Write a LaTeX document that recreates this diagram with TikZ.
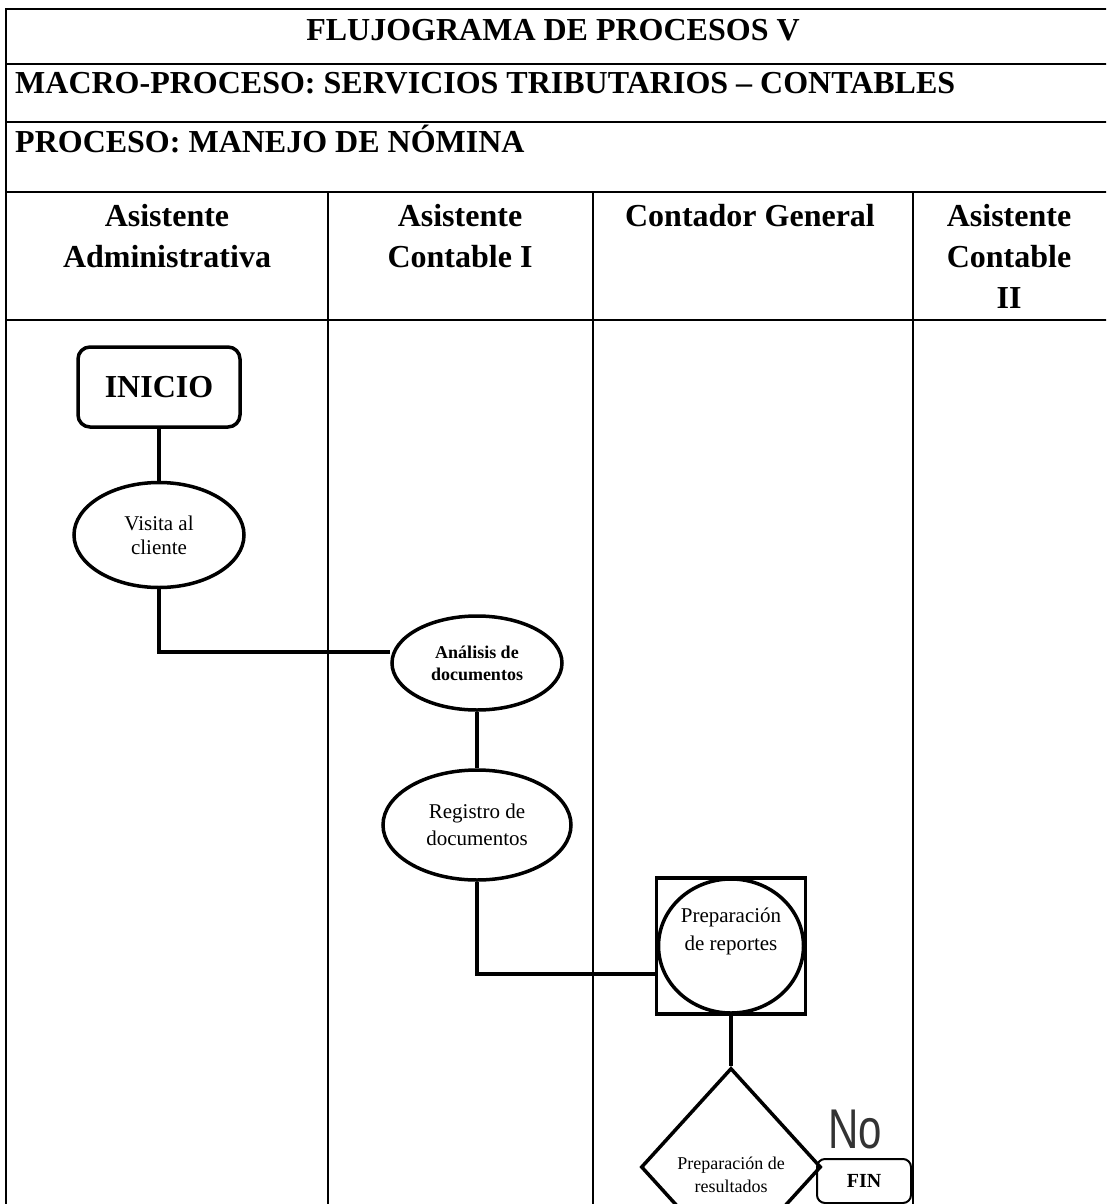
\documentclass[tikz,border=0pt]{standalone}
\usepackage{fontspec}
\setmainfont{Liberation Serif}
\newfontfamily\arialfont{Liberation Sans}
\usepackage{tikz}
\usetikzlibrary{shapes.geometric}

\begin{document}
\begin{tikzpicture}[x=1pt,y=-1pt,
    grid/.style={line width=2pt},
    flow/.style={line width=4pt},
    big/.style={font=\fontsize{32}{41}\selectfont\bfseries},
    shp/.style={draw, line width=3.5pt, align=center}]
\useasboundingbox (0,0) rectangle (1106,1204);
\clip (0,0) rectangle (1106,1204);
    \begin{scope}
\draw[grid] (1110,9) -- (6,9) -- (6,1210);
\draw[grid] (6,64) -- (1110,64);
\draw[grid] (6,122) -- (1110,122);
\draw[grid] (6,192) -- (1110,192);
\draw[grid] (6,320) -- (1110,320);
\foreach \x in {328,593,913} \draw[grid] (\x,192) -- (\x,1210);
\node[big, anchor=base, inner sep=0] (t0) at (553,41) {FLUJOGRAMA DE PROCESOS V};
\node[big, anchor=base west, inner sep=0] (t1) at (15,94) {MACRO-PROCESO: SERVICIOS TRIBUTARIOS -- CONTABLES};
\node[big, anchor=base west, inner sep=0] (t2) at (15,152) {PROCESO: MANEJO DE NÓMINA};
\node[big, anchor=north, inner sep=0, align=center] (l0) at (167,204) {Asistente\\Administrativa};
\node[big, anchor=north, inner sep=0, align=center] (l1) at (460,204) {Asistente\\Contable I};
\node[big, anchor=north, inner sep=0, align=center] (l2) at (750,204) {Contador General};
\node[big, anchor=north, inner sep=0, align=center] (l3) at (1009,204) {Asistente\\Contable\\II};
\end{scope}
    \begin{scope}
\node[shp, big, rounded corners=12pt, minimum width=162pt, minimum height=80pt] (0) at (159,387) {INICIO};
\node[shp, ellipse, minimum width=170pt, minimum height=105pt, font=\fontsize{21}{24}\selectfont] (1) at (159,535) {Visita al\\cliente};
\node[shp, ellipse, minimum width=170pt, minimum height=94pt, font=\fontsize{18}{22}\selectfont\bfseries] (2) at (477,663) {Análisis de\\documentos};
\node[shp, ellipse, minimum width=188pt, minimum height=110pt, font=\fontsize{21}{27}\selectfont] (3) at (477,825) {Registro de\\documentos};
\node[shp, minimum width=149pt, minimum height=136pt] (4) at (731,946) {};
\node[shp, ellipse, minimum width=145pt, minimum height=134pt] (4c) at (4) {};
\node[align=center, font=\fontsize{21}{28}\selectfont] (4t) at (731,931) {Preparación\\de reportes};
\node[shp, diamond, inner sep=0, minimum width=180pt, minimum height=198pt] (5) at (731,1167) {};
\node[align=center, font=\fontsize{18}{23}\selectfont] (5t) at (731,1175) {Preparación de\\resultados};
\node[draw, line width=2pt, rounded corners=8pt, minimum width=94pt, minimum height=44pt, font=\fontsize{20}{24}\selectfont\bfseries] (6) at (864,1181) {FIN};
\node[font=\fontsize{56}{56}\selectfont\arialfont, text=black!80, xscale=0.75, inner sep=0] (no) at (855,1129) {No};
\draw[flow] (0) -- (1);
\draw[flow] (1.south) |- ([yshift=11pt]2.west);
\draw[flow] (2) -- (3);
\draw[flow] (3.south) |- ([yshift=-28pt]4.west);
\draw[flow] (4) -- (5);
\end{scope}
  \end{tikzpicture}
\end{document}
